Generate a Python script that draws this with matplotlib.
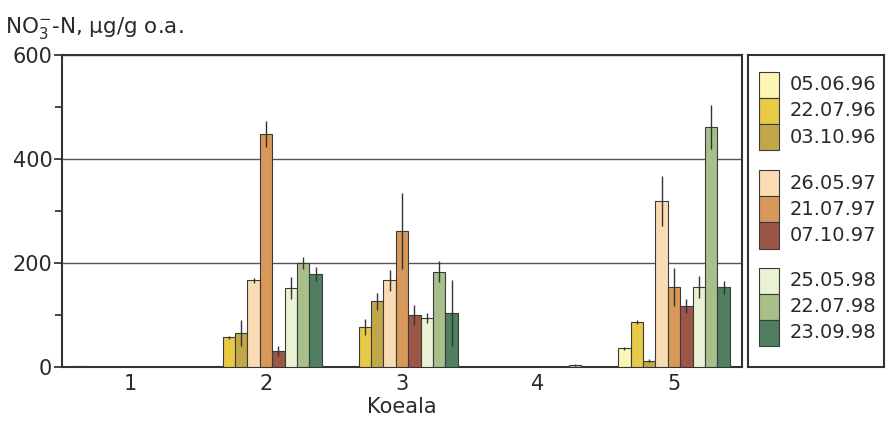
import numpy as np
import matplotlib
matplotlib.use('Agg')
import matplotlib.pyplot as plt
from matplotlib.patches import Rectangle
from matplotlib.ticker import MultipleLocator

plt.rcParams['font.family'] = ['DejaVu Sans']

koeala = [1, 2, 3, 4, 5]
dates = ['05.06.96', '22.07.96', '03.10.96',
         '26.05.97', '21.07.97', '07.10.97',
         '25.05.98', '22.07.98', '23.09.98']
colors = ['#FCF5B6', '#E8CA47', '#C2A64A',
          '#FADCB4', '#D89859', '#9C5647',
          '#E9F2D4', '#A8BF89', '#4F7E61']

# NO3-N per sampling date, one value per koeala 1..5
vals = [
    [1, 0, 0, 0, 36],
    [0, 57, 77, 0, 87],
    [0, 66, 126, 0, 12],
    [0, 167, 167, 0, 320],
    [0, 448, 262, 0, 154],
    [0, 31, 100, 0, 117],
    [0, 152, 94, 0, 154],
    [0, 200, 183, 4, 461],
    [0, 179, 104, 0, 153],
]
errs = [
    [0, 0, 0, 0, 3],
    [0, 3, 16, 0, 4],
    [0, 25, 16, 0, 3],
    [0, 5, 20, 0, 48],
    [0, 25, 73, 0, 36],
    [0, 10, 20, 0, 14],
    [0, 22, 10, 0, 21],
    [0, 11, 20, 2, 42],
    [0, 14, 64, 0, 13],
]

fig = plt.figure(figsize=(8.86, 4.25), dpi=100)
ax = fig.add_axes([62/886, 1-367/425, 680/886, 312/425])

x = np.array(koeala, dtype=float)
width = 0.091
for k in range(len(dates)):
    pos = x + (k - 4) * width
    ax.bar(pos, vals[k], width, color=colors[k], edgecolor='#3a3a3a',
           linewidth=0.8, zorder=3)
    e = np.array(errs[k])
    m = e > 0
    ax.errorbar(pos[m], np.array(vals[k])[m], yerr=e[m], fmt='none',
                ecolor='#333333', elinewidth=1, capsize=0, zorder=4)

ax.set_xlim(0.5, 5.5)
ax.set_ylim(0, 600)
ax.set_yticks([0, 200, 400, 600])
ax.yaxis.set_minor_locator(MultipleLocator(100))
ax.set_xticks(koeala)
ax.set_xticklabels([str(i) for i in koeala])
ax.tick_params(axis='x', length=0, labelsize=15, pad=5, colors='#2a2a2a')
ax.tick_params(axis='y', which='major', direction='out', length=6, width=1.2,
               labelsize=15, pad=1, colors='#2a2a2a')
ax.tick_params(axis='y', which='minor', direction='out', length=5, width=1.2,
               colors='#2a2a2a')
ax.grid(axis='y', which='major', color='#555555', linewidth=1, zorder=0)
for s in ax.spines.values():
    s.set_color('#333333')
    s.set_linewidth(1.5)
ax.set_xlabel('Koeala', fontsize=15, color='#2a2a2a')
ax.xaxis.set_label_coords(0.5, -0.095)

fig.text(5/886, 1-33/425, r'NO$_3^{-}$-N, µg/g o.a.', fontsize=15.5,
         color='#2a2a2a', ha='left', va='baseline')

# legend box
lg = fig.add_axes([748/886, 1-367/425, 136/886, 312/425])
lg.set_xlim(748, 884)
lg.set_ylim(367, 55)
lg.set_xticks([])
lg.set_yticks([])
for s in lg.spines.values():
    s.set_color('#333333')
    s.set_linewidth(1.5)
row_h = 26.2
group_tops = [71.7, 170, 267.5]
for k, (d, c) in enumerate(zip(dates, colors)):
    top = group_tops[k // 3] + (k % 3) * row_h
    lg.add_patch(Rectangle((759, top), 20, row_h, facecolor=c,
                           edgecolor='#3a3a3a', linewidth=0.8))
    lg.text(790, top + row_h / 2, d, fontsize=14, va='center', ha='left',
            color='#2a2a2a')

fig.savefig('out.png', dpi=100)
